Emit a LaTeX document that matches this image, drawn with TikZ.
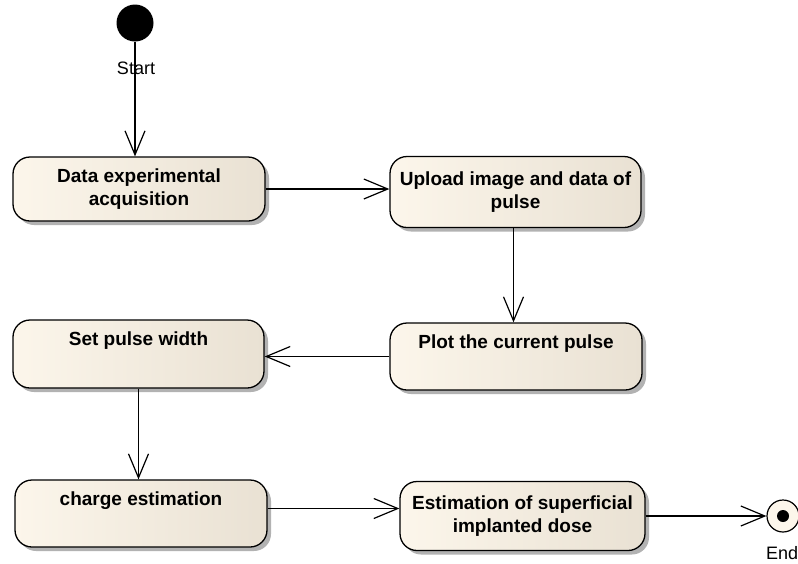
\documentclass[tikz,border=0pt]{standalone}
\usepackage{fontspec}
\setmainfont{Liberation Sans}
\usetikzlibrary{arrows.meta,shadows}
\definecolor{boxL}{RGB}{252,246,235}
\definecolor{boxR}{RGB}{233,225,211}
\definecolor{shadowc}{RGB}{178,178,178}
\begin{document}
\begin{tikzpicture}[x=1pt,y=-1pt,
  act/.style={draw=black, line width=1.3pt, rounded corners=17pt,
    left color=boxL, right color=boxR,
    general shadow={fill=shadowc, shadow xshift=4pt, shadow yshift=-4pt},
    font=\bfseries\fontsize{19}{23}\selectfont, align=center, inner sep=0pt},
  flow/.style={line width=1.2pt, -{Straight Barb[length=24pt,width=20pt,line width=1.2pt]}},
  lbl/.style={font=\fontsize{18}{20}\selectfont, inner sep=0pt}]
\useasboundingbox (0,0) rectangle (798,563);

\node[circle, fill=black, minimum size=37pt, inner sep=0pt] (start) at (135,23) {};
\node[lbl] (startlbl) at (136,68) {Start};

\node[act, minimum width=252pt, minimum height=64pt] (b1) at (139,189) {Data experimental\\acquisition};
\node[act, minimum width=251pt, minimum height=71pt] (b2) at (515.5,192) {Upload image and data of\\pulse};
\node[act, minimum width=252pt, minimum height=67pt] (b3) at (516,356.5) {Plot the current pulse\\\strut};
\node[act, minimum width=251pt, minimum height=68pt] (b4) at (138.5,354) {Set pulse width\\\strut};
\node[act, minimum width=252pt, minimum height=67pt] (b5) at (141,513.5) {charge estimation\\\strut};
\node[act, minimum width=245pt, minimum height=69pt] (b6) at (522.5,516) {Estimation of superficial\\implanted dose};

\node[circle, draw=black, line width=1.2pt, fill=boxL, minimum size=32pt, inner sep=0pt] (fin) at (783,516) {};
\node[circle, fill=black, minimum size=12pt, inner sep=0pt] (findot) at (fin) {};
\node[lbl, anchor=west] (finlbl) at (766,553) {End};

\draw[flow] (start.south) -- (start.south |- b1.north);
\draw[flow] (b1.east) -- (b1.east -| b2.west);
\draw[flow] ([xshift=-2pt]b2.south) -- ([xshift=-2pt]b2.south |- b3.north);
\draw[flow] (b3.west) -- (b3.west -| b4.east);
\draw[flow] (b4.south) -- (b4.south |- b5.north);
\draw[flow] ([yshift=5pt]b5.east) -- ([yshift=5pt]b5.east -| b6.west);
\draw[flow] (b6.east) -- (fin.west);
\end{tikzpicture}
\end{document}
